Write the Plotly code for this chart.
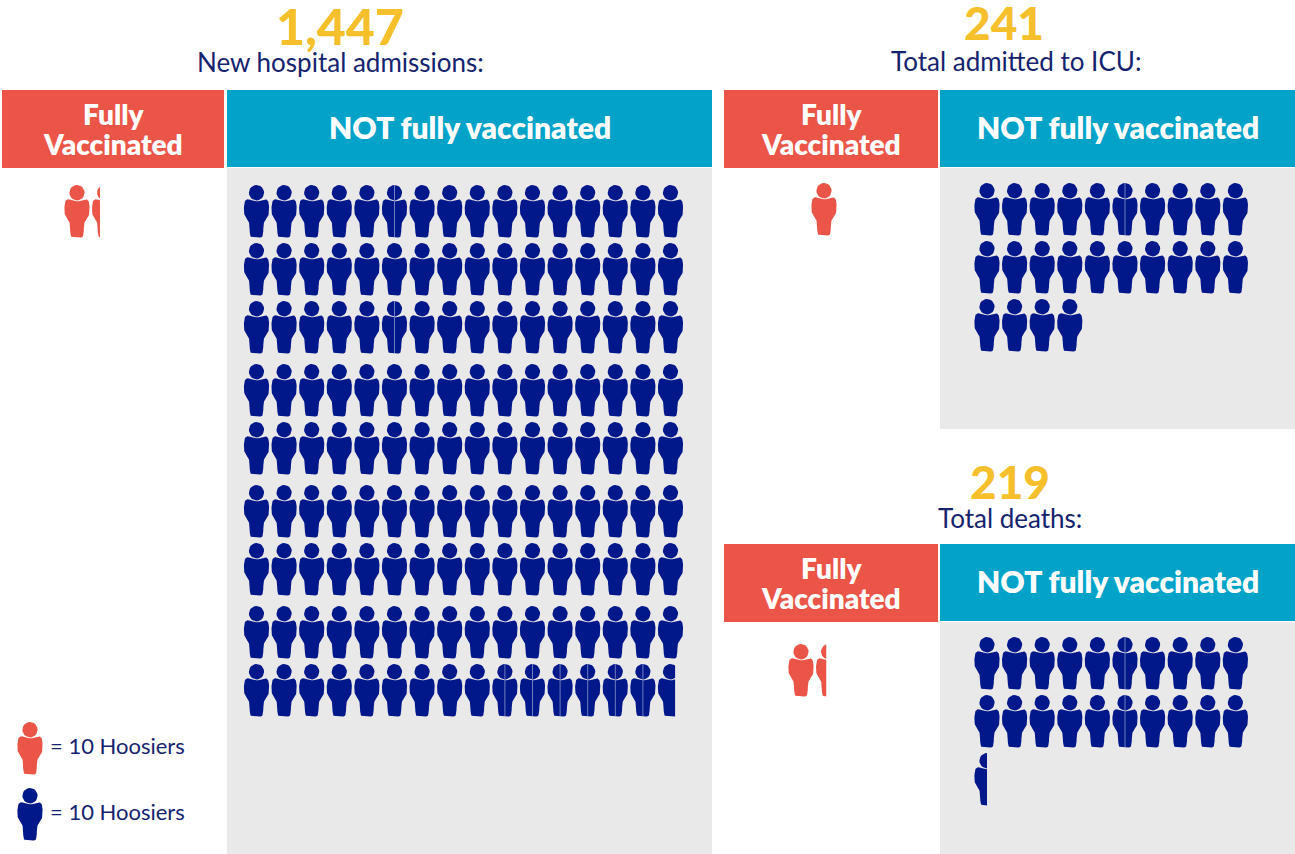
import math
import plotly.graph_objects as go

# each icon = 10 people
hospital_total = "1,447"
icu_total = "241"
deaths_total = "219"
hospital_vacc = 13
hospital_not = 1437
icu_vacc = 10
icu_not = 240
deaths_vacc = 14
deaths_not = 205
per_icon = 10
legend_label = "= 10 Hoosiers"

RED = "#EB5547"
TEAL = "#03A3C9"
GRAY = "#E9E9E9"
NAVY = "#00188A"
YELLOW = "#F5C02C"
TEXT = "#15236F"
HEAD_FONT = "Lato"

PITCH = 27.6


def chaikin(pts, n=3):
    for _ in range(n):
        out = []
        for i in range(len(pts)):
            a, b = pts[i], pts[(i + 1) % len(pts)]
            out.append((0.75 * a[0] + 0.25 * b[0], 0.75 * a[1] + 0.25 * b[1]))
            out.append((0.25 * a[0] + 0.75 * b[0], 0.25 * a[1] + 0.75 * b[1]))
        pts = out
    return pts


right_side = [(0, 16.6), (4, 15.6), (8, 14), (11.5, 15), (12.6, 20), (12.6, 29), (10.5, 33),
              (6.8, 37.5), (6.8, 52.5), (2, 52.5)]
left_side = [(-x, y) for x, y in reversed(right_side[1:])]
BODY = chaikin(right_side + left_side)
HEAD = [(7.6 * math.cos(i / 24 * 2 * math.pi), 7.7 + 7.7 * math.sin(i / 24 * 2 * math.pi)) for i in range(24)]


def clip_right(pts, lim):
    out = []
    for i in range(len(pts)):
        a, b = pts[i], pts[(i + 1) % len(pts)]
        if a[0] <= lim:
            out.append(a)
        if (a[0] <= lim) != (b[0] <= lim):
            t = (lim - a[0]) / (b[0] - a[0])
            out.append((lim, a[1] + t * (b[1] - a[1])))
    return out


def add_icon(xs, ys, cx, top, frac=1.0):
    lim = -11.5 + 23 * frac
    for part in (HEAD, BODY):
        pts = part if frac >= 1 else clip_right(part, lim)
        if not pts:
            continue
        pts = pts + pts[:1]
        xs += [cx + p[0] for p in pts] + [None]
        ys += [top + p[1] for p in pts] + [None]


def icon_grid(value, cx0, row_tops, per_row, color, seams=()):
    n = value / per_icon
    xs, ys = [], []
    sx, sy = [], []
    i = 0
    for r, top in enumerate(row_tops):
        for c in range(per_row):
            left = n - i
            if left <= 0.001:
                break
            add_icon(xs, ys, cx0 + c * PITCH, top, min(left, 1.0))
            if (r, c) in seams:
                sx += [cx0 + c * PITCH, cx0 + c * PITCH, None]
                sy += [top, top + 52, None]
            i += 1
    traces = [go.Scatter(x=xs, y=ys, mode="lines", fill="toself", fillcolor=color,
                         line=dict(color=color, width=0), hoverinfo="skip", showlegend=False)]
    if sx:
        traces.append(go.Scatter(x=sx, y=sy, mode="lines", line=dict(color="#6F7FC0", width=1),
                                 hoverinfo="skip", showlegend=False))
    return traces


fig = go.Figure()


def rect(x0, y0, x1, y1, color):
    fig.add_shape(type="rect", x0=x0, y0=y0, x1=x1, y1=y1, fillcolor=color,
                  line=dict(width=0), layer="below")


def label(x, y, text, size, color, weight="normal", family=HEAD_FONT, anchor="center"):
    fig.add_annotation(x=x, y=y, text=text, showarrow=False, xanchor=anchor, yanchor="middle",
                       font=dict(family=family, size=size, color=color, weight=weight))


# --- panels ---
rect(227, 168, 712, 854, GRAY)
rect(940, 168, 1295, 429, GRAY)
rect(940, 622, 1295, 854, GRAY)

for y0, y1, xr0, xr1, xb0, xb1 in [(90, 168, 2, 224, 227, 712),
                                  (90, 168, 724, 938, 940, 1295),
                                  (544, 622, 724, 938, 940, 1295)]:
    rect(xr0, y0, xr1, y1, RED)
    rect(xb0, y0, xb1, y1 - 1, TEAL)
    label((xr0 + xr1) / 2, (y0 + y1) / 2 - 15, "Fully", 28, "white", 800)
    label((xr0 + xr1) / 2, (y0 + y1) / 2 + 15, "Vaccinated", 28, "white", 800)
    label((xb0 + xb1) / 2, (y0 + y1) / 2 - 2, "NOT fully vaccinated", 30, "white", 800)

# --- headings ---
label(340, 26, hospital_total, 50, YELLOW, 900)
label(340, 62, "New hospital admissions:", 26, TEXT)
label(1004, 22, icu_total, 46, YELLOW, 900)
label(1016, 61, "Total admitted to ICU:", 26, TEXT)
label(1010, 481, deaths_total, 46, YELLOW, 900)
label(1010, 518, "Total deaths:", 26, TEXT)

# --- icons ---
hospital_rows = [185, 243, 301, 364, 422, 485, 543, 606, 664]
hospital_seams = {(0, 5), (2, 5), (8, 9), (8, 10), (8, 11), (8, 12), (8, 13), (8, 14)}
traces = []
traces += icon_grid(hospital_vacc, 77, [185], 5, RED)
traces += icon_grid(hospital_not, 256.5, hospital_rows, 16, NAVY, hospital_seams)
traces += icon_grid(icu_vacc, 824, [183], 5, RED)
traces += icon_grid(icu_not, 987, [183, 241, 299], 10, NAVY, {(0, 5)})
traces += icon_grid(deaths_vacc, 801, [644], 5, RED)
traces += icon_grid(deaths_not, 987, [637, 695, 753], 10, NAVY, {(0, 5), (1, 5)})
# legend icons
traces += icon_grid(per_icon, 30, [722], 1, RED)
traces += icon_grid(per_icon, 30, [788], 1, NAVY)
fig.add_traces(traces)

label(48, 745, legend_label, 22, TEXT, anchor="left")
label(48, 811, legend_label, 22, TEXT, anchor="left")

fig.update_layout(
    width=1295, height=854, margin=dict(l=0, r=0, t=0, b=0),
    paper_bgcolor="white", plot_bgcolor="white", showlegend=False,
    xaxis=dict(range=[0, 1295], visible=False, fixedrange=True),
    yaxis=dict(range=[854, 0], visible=False, fixedrange=True),
)

fig.write_html("out.html", config=dict(displayModeBar=False),
               post_script="document.body.style.margin='0';document.body.style.overflow='hidden';")
